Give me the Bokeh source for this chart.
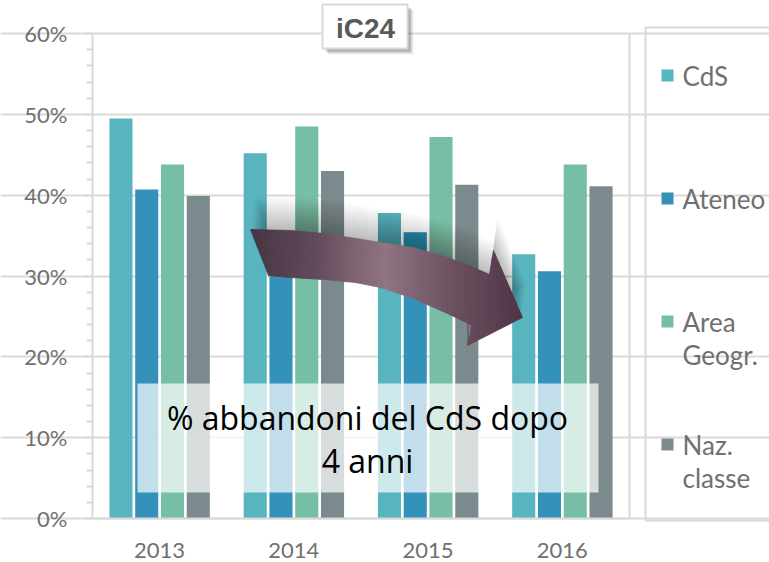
from bokeh.plotting import figure
from bokeh.models import (Range1d, FixedTicker, NumeralTickFormatter, LinearAxis,
                          Grid, ColumnDataSource)
from bokeh.transform import dodge
from bokeh.embed import file_html
from bokeh.resources import INLINE
from bokeh.core.properties import value

# ---------------- data ----------------
years = ["2013", "2014", "2015", "2016"]
series_keys = ["cds", "ateneo", "area", "naz"]
series_labels = ["CdS", "Ateneo", "Area\nGeogr.", "Naz.\nclasse"]
cds = [0.495, 0.452, 0.378, 0.327]
ateneo = [0.407, 0.330, 0.354, 0.306]
area = [0.438, 0.485, 0.472, 0.438]
naz = [0.399, 0.430, 0.413, 0.411]
y_ticks = [0.0, 0.1, 0.2, 0.3, 0.4, 0.5, 0.6]
colors = ["#58B5C0", "#3492BA", "#76BEA6", "#7A8A8D"]
title_text = "iC24"
note_lines = ["% abbandoni del CdS dopo", "4 anni"]

# ---------------- layout / styles ----------------
W, H = 769, 562
FR_L, FR_T, FR_B = 92, 33, 518           # plot area in screen px
CAT_PX = 134.25                           # px per category
PPU_Y = (FR_B - FR_T) / y_ticks[-1]
GRID = "#D9D9D9"
LABEL_COL = "#707070"
offsets = [-0.288, -0.096, 0.096, 0.288]
bar_w = 0.172


def X(px):
    return (px - FR_L) / CAT_PX


def Y(py):
    return (FR_B - py) / PPU_Y


ncat = len(years)
xc = [i + 0.5 for i in range(ncat)]
src = ColumnDataSource(dict(xc=xc, cds=cds, ateneo=ateneo, area=area, naz=naz))

p = figure(width=W, height=H, x_range=Range1d(X(0), X(W)), y_range=Range1d(Y(H), Y(0)),
           output_backend="svg", toolbar_location=None,
           x_axis_location=None, y_axis_location=None, min_border=0)
p.outline_line_color = None
p.background_fill_color = "white"
p.border_fill_color = "white"
for g in p.grid:
    g.visible = False

# horizontal grid lines + right border of the plot area
minor = [round(t + 0.02 * k, 3) for t in y_ticks[:-1] for k in range(1, 5)]
yticker = FixedTicker(ticks=y_ticks, minor_ticks=minor)
p.add_layout(Grid(dimension=1, ticker=yticker, bounds=(0, ncat),
                  grid_line_color=GRID, grid_line_width=2))
p.segment(x0=[ncat], y0=[y_ticks[0]], x1=[ncat], y1=[y_ticks[-1]],
          line_color=GRID, line_width=2)

# bars
for k, key in enumerate(series_keys):
    p.vbar(x=dodge("xc", offsets[k]), top=key, width=bar_w, source=src,
           fill_color=colors[k], line_color=None)

# axes
ya = LinearAxis(fixed_location=0, bounds=(0, y_ticks[-1]), ticker=yticker,
                formatter=NumeralTickFormatter(format="0%"))
ya.axis_line_color = GRID
ya.axis_line_width = 2
ya.major_tick_line_color = GRID
ya.major_tick_line_width = 2
ya.major_tick_out = 9
ya.major_tick_in = 0
ya.minor_tick_line_color = GRID
ya.minor_tick_line_width = 2
ya.minor_tick_out = 6
ya.minor_tick_in = 0
ya.major_label_standoff = 16
ya.major_label_text_font = "Lato"
ya.major_label_text_font_size = "22px"
ya.major_label_text_color = LABEL_COL
p.add_layout(ya, "left")

xa = LinearAxis(fixed_location=0, bounds=(0, ncat), ticker=FixedTicker(ticks=xc),
                major_label_overrides={x: y for x, y in zip(xc, years)})
xa.axis_line_color = GRID
xa.axis_line_width = 2
xa.major_tick_line_color = None
xa.minor_tick_line_color = None
xa.major_label_standoff = 18
xa.major_label_text_font = "Lato"
xa.major_label_text_font_size = "22px"
xa.major_label_text_color = LABEL_COL
p.add_layout(xa, "below")

# ---------------- curved arrow (decoration, screen px outline) ----------------
arrow_px = [(250, 229), (290, 230), (323, 233), (355, 238), (380, 242), (413, 247),
            (447, 257), (480, 270), (489, 274), (493, 250), (522, 317), (467, 345),
            (472, 325), (447, 313), (413, 298), (380, 287), (355, 282), (323, 279),
            (290, 277), (268, 275)]
arrow = [(X(a), Y(b)) for a, b in arrow_px]
ax = [a[0] for a in arrow]
ay = [a[1] for a in arrow]

sh_xs, sh_ys = [], []
for i in range(1, 35):
    sh_xs.append([v + 0.12 * i / CAT_PX for v in ax])
    sh_ys.append([v + 1.0 * i / PPU_Y for v in ay])
p.patches(xs=sh_xs, ys=sh_ys, fill_color="black", fill_alpha=0.009, line_color=None)


def clip_strip(poly, xmin, xmax):
    def clip_edge(pts, inside, inter):
        out = []
        for i in range(len(pts)):
            cur, prev = pts[i], pts[i - 1]
            if inside(cur):
                if not inside(prev):
                    out.append(inter(prev, cur))
                out.append(cur)
            elif inside(prev):
                out.append(inter(prev, cur))
        return out

    def ix(a, b, xv):
        t = (xv - a[0]) / (b[0] - a[0])
        return (xv, a[1] + t * (b[1] - a[1]))

    pts = clip_edge(poly, lambda q: q[0] >= xmin, lambda a, b: ix(a, b, xmin))
    if pts:
        pts = clip_edge(pts, lambda q: q[0] <= xmax, lambda a, b: ix(a, b, xmax))
    return pts


stops = [(250, (70, 52, 66)), (310, (96, 72, 88)), (385, (145, 116, 131)),
         (450, (110, 82, 98)), (523, (76, 52, 68))]


def grad(px):
    for (x0, c0), (x1, c1) in zip(stops[:-1], stops[1:]):
        if x0 <= px <= x1:
            t = (px - x0) / (x1 - x0)
            c = [int(round(c0[j] + t * (c1[j] - c0[j]))) for j in range(3)]
            return "#%02x%02x%02x" % tuple(c)
    return "#%02x%02x%02x" % stops[-1][1]


pxmin, pxmax = min(a for a, _ in arrow_px), max(a for a, _ in arrow_px)
N = 90
st_xs, st_ys, st_c = [], [], []
for i in range(N):
    a = pxmin + (pxmax - pxmin) * i / N
    b = pxmin + (pxmax - pxmin) * (i + 1) / N
    pts = clip_strip(arrow, X(a), X(b))
    if len(pts) >= 3:
        st_xs.append([q[0] for q in pts])
        st_ys.append([q[1] for q in pts])
        st_c.append(grad((a + b) / 2))
p.patches(xs=st_xs, ys=st_ys, fill_color=st_c, line_color=st_c, line_width=0.8)

# ---------------- translucent note box ----------------
p.quad(left=[X(137)], right=[X(598)], top=[Y(383)], bottom=[Y(492)],
       fill_color="white", fill_alpha=0.7, line_color=None)
p.text(x=[X(367), X(367)], y=[Y(417), Y(460)], text=note_lines,
       text_font=value("Open Sans"), text_font_size="32px",
       text_align="center", text_baseline="middle", text_color="black")

# ---------------- title box ----------------
for d, a in [(6, 0.05), (5, 0.07), (4, 0.10), (3, 0.12)]:
    p.quad(left=[X(322 + d)], right=[X(407 + d)], top=[Y(4 + d)], bottom=[Y(48 + d)],
           fill_color="black", fill_alpha=a, line_color=None)
p.quad(left=[X(322)], right=[X(407)], top=[Y(4)], bottom=[Y(48)],
       fill_color="white", line_color=GRID, line_width=2)
p.text(x=[X(365)], y=[Y(28)], text=[title_text], text_font=value("Liberation Sans"),
       text_font_style="bold", text_font_size="28px", text_color="#595959",
       text_align="center", text_baseline="middle")

# ---------------- legend ----------------
p.quad(left=[X(645)], right=[X(W + 40)], top=[Y(27)], bottom=[Y(520)],
       fill_color=None, line_color=GRID, line_width=2)
item_py = [75 + 123 * i for i in range(len(series_labels))]
p.scatter(x=[X(667)] * len(series_labels), y=[Y(v) for v in item_py],
          marker="square", size=12, color=colors, line_color=None)
tx, ty, tt = [], [], []
for i, lab in enumerate(series_labels):
    for j, line in enumerate(lab.split("\n")):
        tx.append(X(682))
        ty.append(Y(item_py[i] + 33 * j))
        tt.append(line)
p.text(x=tx, y=ty, text=tt, text_font=value("Lato"), text_font_size="26px",
       text_align="left", text_baseline="middle", text_color=LABEL_COL)

open("out.html", "w").write(file_html(p, INLINE))
